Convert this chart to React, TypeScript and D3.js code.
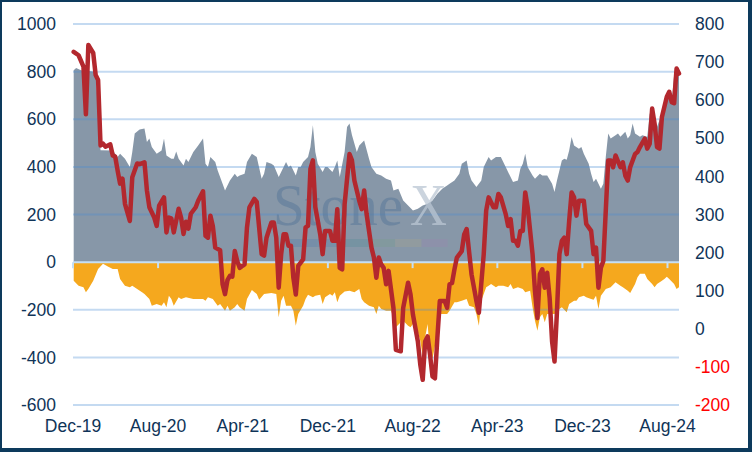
import * as d3 from "d3";

// weekly positioning data, week 0 = 3 Dec 2019
const startDate = new Date(2019, 11, 3);

const xTickLabels = ["Dec-19", "Aug-20", "Apr-21", "Dec-21", "Aug-22", "Apr-23", "Dec-23", "Aug-24"];
const leftTicks = [-600, -400, -200, 0, 200, 400, 600, 800, 1000];
const rightTicks = [-200, -100, 0, 100, 200, 300, 400, 500, 600, 700, 800];

// red line, right axis: [week, value]
const netLine = [
  [0, 727], [2, 718], [4, 688], [5, 563], [6, 745], [8, 724], [9, 666], [10, 653], [11, 481], [12, 486],
  [13, 478], [15, 484], [16, 455], [17, 452], [18, 415], [19, 381], [20, 394], [21, 328], [23, 283], [24, 398],
  [26, 434], [27, 432], [29, 437], [30, 363], [31, 319], [33, 292], [34, 270], [35, 323], [37, 345], [38, 253],
  [39, 292], [40, 290], [41, 253], [43, 315], [44, 292], [45, 249], [46, 281], [47, 263], [48, 302], [50, 319],
  [51, 336], [53, 361], [54, 244], [55, 239], [56, 297], [57, 270], [58, 213], [60, 206], [61, 117], [62, 91],
  [63, 128], [64, 139], [65, 137], [66, 204], [67, 178], [68, 160], [70, 169], [71, 266], [72, 319], [74, 341],
  [75, 333], [77, 196], [78, 192], [79, 239], [81, 279], [82, 279], [83, 239], [84, 108], [85, 196], [86, 248],
  [87, 248], [88, 218], [89, 218], [90, 134], [91, 90], [92, 165], [94, 182], [95, 266], [96, 270], [97, 420],
  [98, 442], [99, 319], [101, 248], [102, 196], [103, 257], [105, 257], [106, 231], [107, 231], [108, 314], [109, 160],
  [110, 156], [111, 327], [113, 459], [114, 442], [115, 389], [117, 336], [118, 314], [119, 363], [120, 301], [122, 213],
  [123, 187], [124, 134], [125, 187], [126, 169], [127, 160], [128, 117], [129, 152], [131, 55], [132, -55], [134, -59],
  [135, 55], [137, 121], [138, 90], [139, 37], [141, -33], [142, -94], [143, -134], [144, -33], [145, -20], [146, -68],
  [147, -125], [148, -130], [149, -24], [150, 73], [152, 73], [153, 55], [154, 117], [155, 120], [156, 156], [157, 187],
  [159, 204], [160, 248], [161, 262], [163, 143], [164, 108], [165, 73], [166, 42], [168, 196], [169, 310], [170, 345],
  [172, 319], [173, 319], [174, 354], [175, 345], [177, 301], [178, 270], [179, 288], [180, 231], [181, 231], [182, 218],
  [183, 257], [184, 257], [185, 358], [186, 319], [188, 196], [189, 99], [190, 28], [191, 143], [192, 156], [193, 108],
  [194, 147], [195, 81], [196, -33], [197, -86], [198, 46], [199, 196], [200, 231], [201, 239], [202, 196], [203, 283],
  [204, 358], [205, 345], [206, 297], [207, 336], [209, 336], [210, 275], [212, 257], [213, 196], [214, 213], [215, 108],
  [216, 160], [217, 178], [219, 442], [220, 442], [221, 424], [222, 455], [224, 424], [225, 437], [226, 402], [227, 389],
  [228, 424], [230, 459], [231, 464], [232, 477], [234, 499], [235, 473], [236, 486], [237, 578], [238, 538], [239, 477],
  [240, 473], [241, 556], [243, 609], [244, 622], [245, 595], [246, 592], [247, 683], [248, 670],
];

// grey area, left axis
const longs = [
  [0, 806], [1, 815], [3, 806], [9, 800], [11, 470], [16, 469], [18, 441], [19, 455], [21, 434], [23, 399],
  [24, 462], [25, 540], [27, 557], [29, 561], [30, 504], [31, 519], [32, 483], [34, 455], [36, 469], [37, 519],
  [38, 448], [40, 434], [41, 434], [42, 465], [43, 434], [45, 406], [46, 434], [47, 420], [49, 462], [51, 490],
  [52, 504], [53, 519], [54, 413], [55, 399], [56, 441], [58, 420], [59, 385], [61, 329], [62, 301], [64, 343],
  [66, 371], [67, 357], [68, 364], [70, 371], [71, 420], [73, 455], [75, 441], [77, 350], [78, 371], [79, 420],
  [81, 413], [82, 406], [84, 357], [85, 378], [87, 420], [88, 399], [89, 406], [91, 364], [92, 399], [93, 399],
  [94, 420], [96, 441], [97, 483], [98, 575], [99, 462], [100, 413], [102, 378], [103, 399], [104, 399], [106, 378],
  [107, 399], [108, 427], [109, 357], [111, 462], [112, 567], [113, 582], [114, 534], [116, 462], [117, 490], [119, 511],
  [121, 434], [122, 399], [124, 371], [126, 364], [128, 350], [130, 343], [131, 301], [133, 308], [135, 259], [137, 238],
  [139, 217], [141, 224], [143, 238], [145, 245], [147, 259], [149, 287], [151, 308], [153, 322], [154, 329], [156, 343],
  [158, 371], [159, 413], [161, 427], [162, 371], [163, 343], [165, 315], [167, 343], [168, 399], [170, 441], [171, 427],
  [173, 441], [175, 441], [177, 399], [179, 357], [180, 336], [182, 343], [183, 392], [184, 413], [185, 455], [186, 399],
  [188, 364], [189, 350], [191, 371], [192, 364], [194, 364], [196, 329], [197, 294], [198, 343], [200, 427], [201, 434],
  [202, 430], [203, 469], [204, 525], [205, 490], [207, 476], [208, 483], [209, 455], [211, 413], [212, 371], [213, 336],
  [214, 350], [216, 308], [217, 329], [218, 441], [219, 540], [220, 519], [222, 533], [223, 540], [224, 526], [226, 547],
  [227, 519], [228, 533], [229, 582], [230, 540], [232, 526], [233, 533], [235, 526], [236, 624], [238, 603], [239, 568],
  [241, 624], [242, 673], [244, 701], [245, 673], [246, 785], [247, 813], [248, 806],
];

// orange area, left axis
const shorts = [
  [0, -78], [2, -99], [4, -106], [5, -127], [6, -113], [8, -78], [10, -29], [12, -7], [14, -18], [16, -29],
  [18, -29], [19, -71], [21, -99], [23, -106], [24, -99], [26, -113], [28, -127], [29, -134], [31, -155], [32, -183],
  [34, -176], [36, -183], [37, -169], [38, -190], [39, -141], [40, -155], [41, -183], [43, -148], [44, -155], [46, -148],
  [49, -155], [51, -155], [53, -155], [54, -162], [55, -148], [57, -155], [59, -183], [60, -176], [62, -204], [63, -183],
  [64, -204], [66, -190], [67, -176], [68, -190], [70, -204], [71, -155], [73, -117], [75, -134], [76, -158], [78, -134],
  [81, -130], [83, -134], [84, -232], [85, -162], [86, -141], [87, -183], [89, -183], [90, -204], [91, -267], [92, -218],
  [94, -183], [95, -155], [96, -137], [98, -148], [99, -141], [101, -137], [102, -176], [103, -148], [105, -134], [106, -141],
  [107, -127], [108, -169], [109, -141], [111, -123], [113, -120], [115, -127], [117, -113], [118, -155], [119, -169], [121, -183],
  [123, -190], [124, -218], [125, -183], [126, -197], [128, -204], [130, -204], [131, -232], [132, -274], [134, -253], [135, -246],
  [137, -267], [138, -274], [139, -260], [141, -295], [142, -330], [143, -395], [144, -316], [145, -260], [146, -385], [147, -405],
  [149, -302], [150, -218], [153, -218], [154, -204], [156, -169], [157, -169], [159, -162], [161, -155], [162, -183], [164, -190],
  [165, -218], [166, -267], [167, -162], [169, -106], [170, -99], [171, -92], [173, -106], [174, -99], [176, -99], [178, -106],
  [179, -92], [180, -113], [182, -106], [184, -113], [185, -127], [187, -120], [188, -190], [189, -246], [190, -288], [191, -232],
  [192, -218], [193, -253], [194, -218], [196, -218], [197, -218], [199, -197], [200, -190], [202, -211], [203, -176], [205, -162],
  [206, -162], [207, -148], [209, -141], [210, -148], [212, -155], [213, -158], [214, -141], [215, -197], [216, -141], [218, -113],
  [220, -106], [222, -85], [224, -99], [225, -106], [227, -120], [228, -130], [230, -92], [231, -64], [232, -49], [234, -49],
  [235, -71], [237, -92], [238, -106], [239, -92], [241, -78], [242, -71], [243, -61], [244, -71], [246, -92], [247, -113],
  [248, -106],
];

const weekDate = (w) => d3.timeDay.offset(startDate, 7 * w);

export default function App() {
  const width = 752;
  const height = 452;
  const plotLeft = 73;
  const plotRight = 679;
  const plotTop = 24;
  const plotBottom = 405;

  const x = d3.scaleTime([new Date(2019, 11, 1), new Date(2024, 8, 3)], [plotLeft, plotRight]);
  const yL = d3.scaleLinear([-600, 1000], [plotBottom, plotTop]);
  const yR = d3.scaleLinear([-200, 800], [plotBottom, plotTop]);

  const area = d3
    .area()
    .x((d) => x(weekDate(d[0])))
    .y0(yL(0))
    .y1((d) => yL(d[1]));
  const line = d3
    .line()
    .x((d) => x(weekDate(d[0])))
    .y((d) => yR(d[1]));

  const tickDates = xTickLabels.map((_, i) => d3.timeMonth.offset(new Date(2019, 11, 1), 8 * i));
  const font = "'Liberation Sans', Arial, sans-serif";
  const serif = "'Liberation Serif', 'Times New Roman', serif";
  const navy = "#0f3458";

  return (
    <svg width={width} height={height} style={{ position: "absolute", left: 0, top: 0 }} fontFamily={font}>
      <rect x={0} y={0} width={width} height={height} fill="#0d3a5c" />
      <rect x={2} y={2} width={width - 6} height={height - 6} fill="#fff" />

      <path d={area(longs)} fill="#8797a8" />
      <path d={area(shorts)} fill="#f5a81e" />

      <g stroke="rgba(70,140,210,0.32)" strokeWidth={2}>
        {leftTicks.filter((t) => t !== 0).map((t) => (
          <line key={t} x1={plotLeft} x2={plotRight} y1={yL(t)} y2={yL(t)} />
        ))}
      </g>

      {/* watermark */}
      <g>
        <text x={273} y={225} fontFamily={serif} fontSize={60} textLength={130}
          lengthAdjust="spacingAndGlyphs" fill="#557598" fillOpacity={0.5}>Stone</text>
        <text x={410} y={225} fontFamily={serif} fontSize={60} textLength={37}
          lengthAdjust="spacingAndGlyphs" fill="#b9c6d3" fillOpacity={0.75}>X</text>
        {["#4f79a8", "#5680a8", "#4f8c96", "#78a088", "#a8a48c", "#9a86b0"].map((c, i) => (
          <rect key={i} x={290 + i * 26.3} y={239} width={26.3} height={8} fill={c} fillOpacity={0.3} />
        ))}
      </g>

      <line x1={plotLeft} x2={plotRight} y1={yL(0)} y2={yL(0)} stroke="#c6dff4" strokeWidth={2} />
      <g stroke="#c6dff4" strokeWidth={2}>
        {tickDates.map((d, i) => (
          <line key={i} x1={x(d)} x2={x(d)} y1={yL(0)} y2={yL(0) + 6} />
        ))}
      </g>

      <path d={line(netLine)} fill="none" stroke="#b3282e" strokeWidth={4.5} strokeLinejoin="round" strokeLinecap="round" />

      <g fontSize={17.5} fill={navy}>
        {leftTicks.map((t) => (
          <text key={t} x={56} y={yL(t)} dy="0.35em" textAnchor="end">{t}</text>
        ))}
        {rightTicks.map((t) => (
          <text key={t} x={695} y={yR(t)} dy="0.35em" textAnchor="start" fill={t < 0 ? "#ff0000" : navy}>{t}</text>
        ))}
        {tickDates.map((d, i) => (
          <text key={i} x={x(d)} y={432} textAnchor="middle">{xTickLabels[i]}</text>
        ))}
      </g>
    </svg>
  );
}
